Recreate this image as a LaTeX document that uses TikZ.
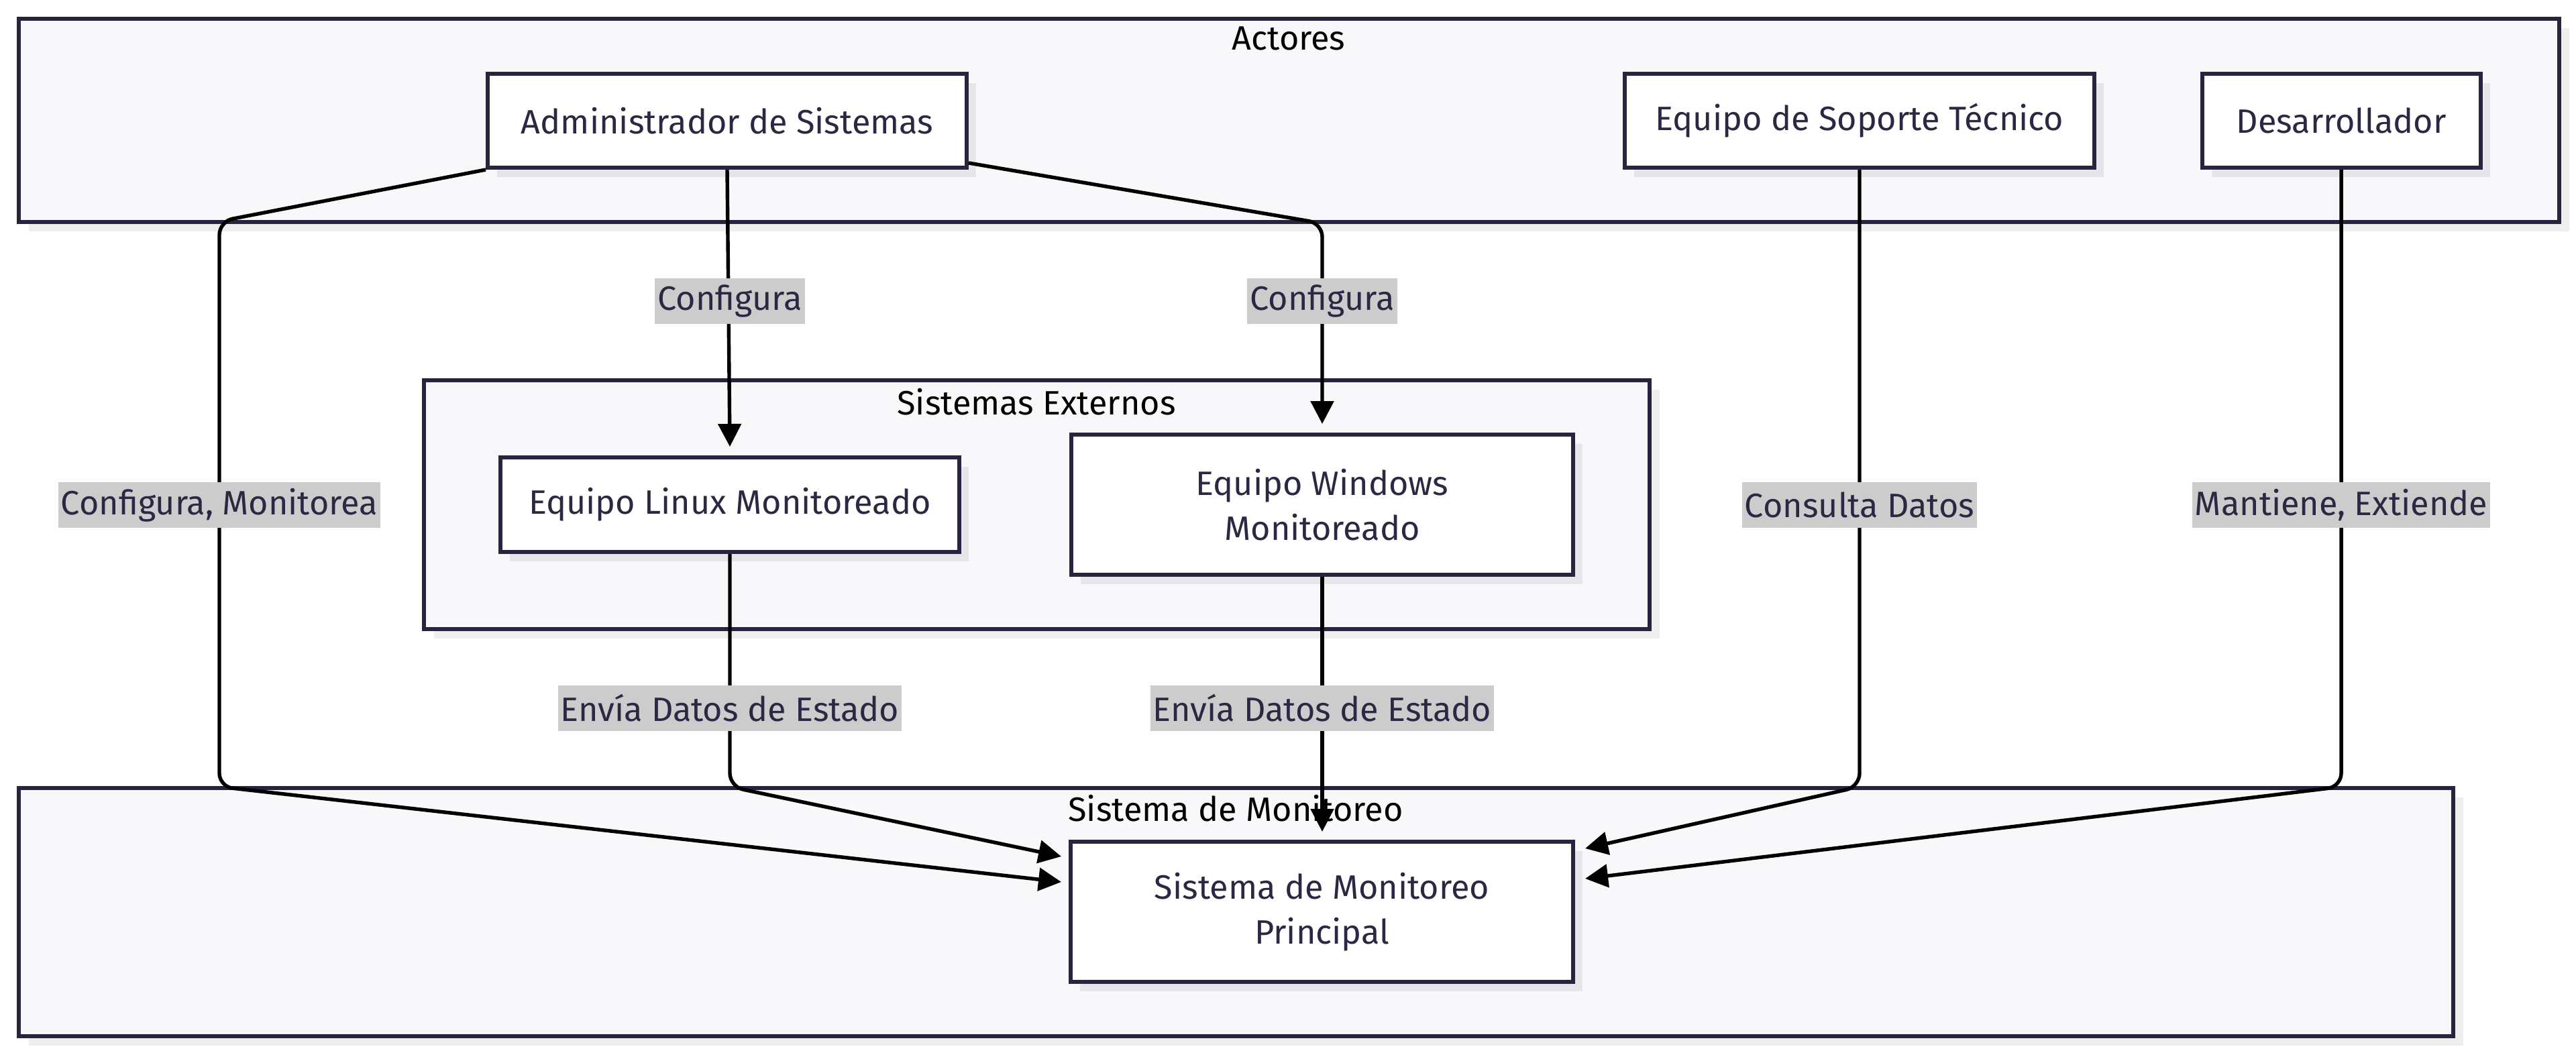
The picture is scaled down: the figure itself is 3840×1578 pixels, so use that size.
\documentclass[tikz,border=0pt]{standalone}
\usepackage{fontspec}
\setmainfont{Fira Sans}
\usetikzlibrary{arrows.meta,shadows}
\definecolor{borderc}{HTML}{26253D}
\definecolor{textc}{HTML}{2A2842}
\definecolor{clusterfill}{HTML}{F8F8FA}
\definecolor{nodeshadow}{HTML}{E6E6EA}
\definecolor{clustershadow}{HTML}{EEEEEE}
\definecolor{labelfill}{HTML}{CCCCCC}
\tikzset{
  cluster/.style={draw=borderc, line width=1.5pt, fill=clusterfill, inner sep=0pt,
    drop shadow={shadow xshift=3.75pt, shadow yshift=-3.5pt, fill=clustershadow, opacity=1}},
  ctitle/.style={text=black, font=\fontsize{12.6}{15}\selectfont, inner sep=0pt},
  box/.style={draw=borderc, line width=1.5pt, fill=white, inner sep=0pt, align=center,
    text=textc, font=\fontsize{12.6}{16.75}\selectfont,
    drop shadow={shadow xshift=3.5pt, shadow yshift=-3.5pt, fill=nodeshadow, opacity=1}},
  elabel/.style={fill=labelfill, text=textc, font=\fontsize{12.6}{15}\selectfont,
    inner xsep=1pt, inner ysep=0pt, minimum height=17pt},
  conn/.style={draw=black, line width=1.35pt, rounded corners=5pt,
    -{Triangle[length=8.5pt, width=8.5pt]}},
}
\begin{document}
\begin{tikzpicture}[x=0.25pt, y=-0.25pt]
\useasboundingbox (0,0) rectangle (3840,1578);
% clusters
\node[cluster, minimum width=3787*0.25pt, minimum height=303*0.25pt] (actores) at (1921.5,179.5) {};
\node[cluster, minimum width=1827*0.25pt, minimum height=371*0.25pt] (externos) at (1545.5,752.5) {};
\node[cluster, minimum width=3629*0.25pt, minimum height=370*0.25pt] (monitoreo) at (1842.5,1360) {};
\node[ctitle] (tact) at (1921,57) {Actores};
\node[ctitle] (text) at (1545,599) {Sistemas Externos};
\node[ctitle] (tmon) at (1842,1205) {Sistema de Monitoreo};
% nodes
\node[box, minimum width=714*0.25pt, minimum height=140*0.25pt] (admin) at (1084,180) {Administrador de Sistemas};
\node[box, minimum width=700*0.25pt, minimum height=140*0.25pt] (soporte) at (2772,180) {Equipo de Soporte Técnico};
\node[box, minimum width=415*0.25pt, minimum height=140*0.25pt] (dev) at (3490,180) {Desarrollador};
\node[box, minimum width=684*0.25pt, minimum height=141*0.25pt] (linux) at (1088,752.5) {Equipo Linux Monitoreado};
\node[box, minimum width=748*0.25pt, minimum height=209*0.25pt] (windows) at (1971,752.5) {Equipo Windows\\Monitoreado};
\node[box, minimum width=749*0.25pt, minimum height=209*0.25pt] (principal) at (1970.5,1359.5) {Sistema de Monitoreo\\Principal};
% connector points
\coordinate (a1) at (1444,243);
\coordinate (a2) at (724,253);
\coordinate (linT) at (1088,666);
\coordinate (winT) at (1971,632);
\coordinate (pL1) at (1582,1277);
\coordinate (pL2) at (1582,1315);
\coordinate (pT) at (1971,1240);
\coordinate (pR1) at (2363,1265);
\coordinate (pR2) at (2363,1310);
% connectors
\draw[conn] (admin.south) -- (linT);
\draw[conn] (a1) -- (1971,333) -- (winT);
\draw[conn] (a2) -- (327,330) -- (327,1173) -- (pL2);
\draw[conn] (linux.south) -- (1088,1173) -- (pL1);
\draw[conn] (windows.south) -- (pT);
\draw[conn] (soporte.south) -- (2772,1173) -- (pR1);
\draw[conn] (dev.south) -- (3490,1173) -- (pR2);
% labels
\node[elabel] (l1) at (1088,449) {Configura};
\node[elabel] (l2) at (1971,449) {Configura};
\node[elabel] (l3) at (327,753) {Configura, Monitorea};
\node[elabel] (l4) at (1088,1056) {Envía Datos de Estado};
\node[elabel] (l5) at (1971,1056) {Envía Datos de Estado};
\node[elabel] (l6) at (2772,753) {Consulta Datos};
\node[elabel] (l7) at (3490,753) {Mantiene, Extiende};
\end{tikzpicture}
\end{document}
